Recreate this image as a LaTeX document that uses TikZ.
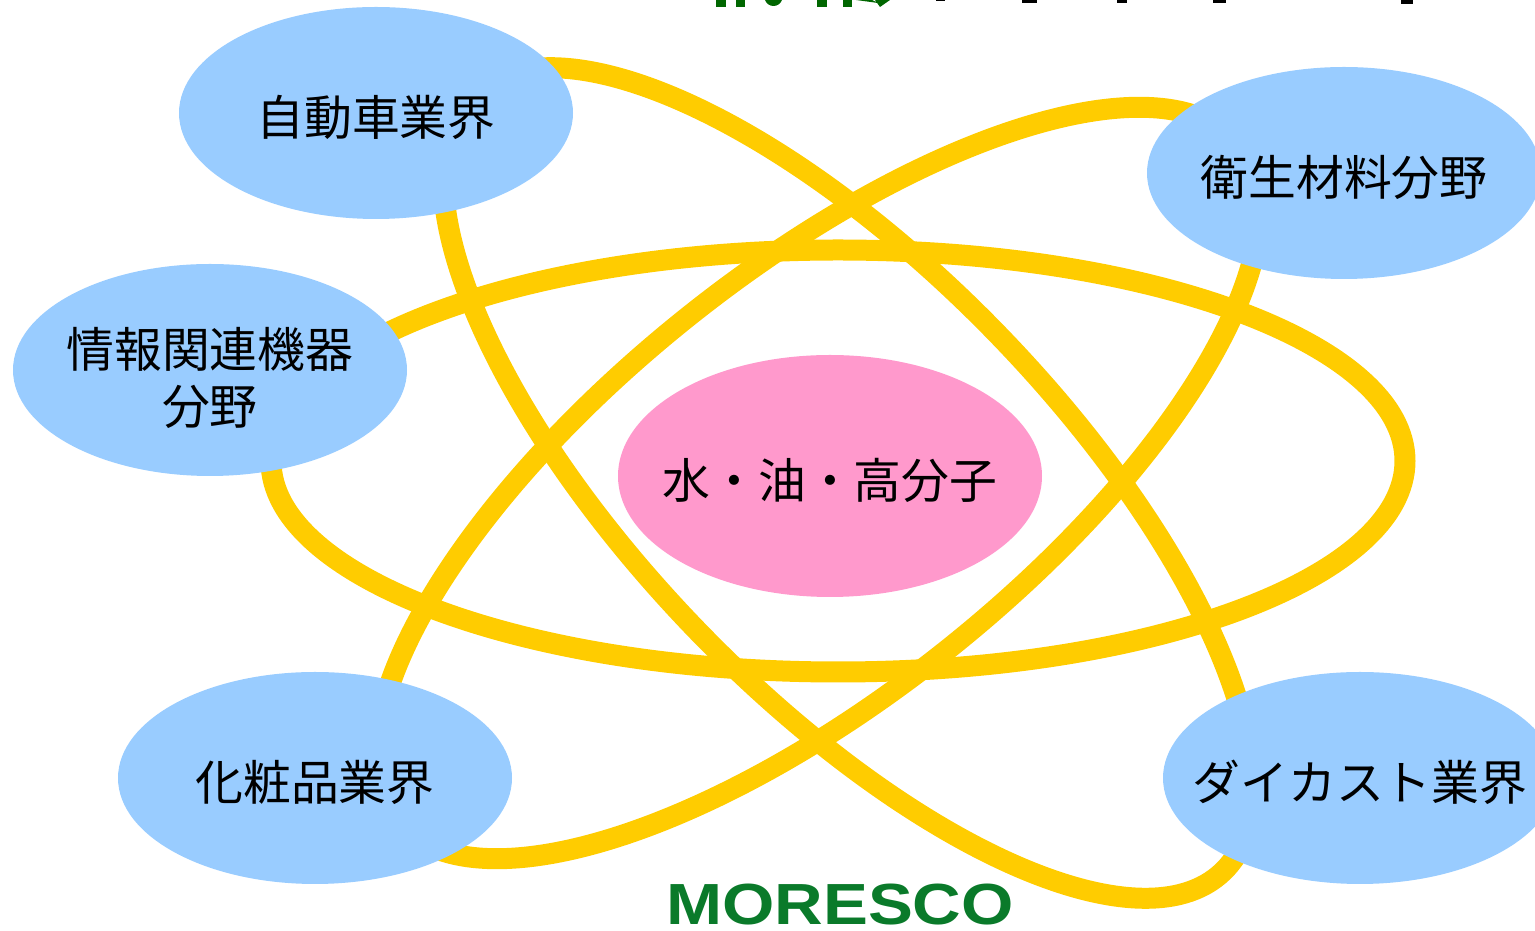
\documentclass[tikz,border=0pt]{standalone}
\usepackage{fontspec}
\newfontfamily\cjk{Noto Sans CJK JP}
\setsansfont{Liberation Sans}
\definecolor{orbitcol}{HTML}{FFCC00}
\definecolor{fieldcol}{HTML}{99CCFF}
\definecolor{corecol}{HTML}{FF99CC}
\definecolor{logocol}{HTML}{0A7A2A}
\definecolor{titlecol}{HTML}{006600}
\usetikzlibrary{shapes.geometric}
\tikzset{
  orbit/.style={draw=orbitcol, line width=21*0.01cm},
  blob/.style={ellipse, inner sep=-50pt, align=center, font=\cjk\fontsize{13.6}{16.3}\selectfont, execute at begin node={\rule{0pt}{14pt}}},
  field/.style={blob, fill=fieldcol, minimum width=394*0.01cm, minimum height=212*0.01cm},
  core/.style={blob, fill=corecol, minimum width=424*0.01cm, minimum height=242*0.01cm},
}
\begin{document}
\begin{tikzpicture}[x=0.01cm, y=-0.01cm]
      \useasboundingbox (0,0) rectangle (1535,931);
      % Cut title
      \foreach \xa/\xb in {716/726, 736/745, 817/827, 843/852}
        \fill[titlecol] (\xa,0) rectangle (\xb,7);
      \fill[titlecol] (765,0) .. controls (768,8) and (779,8) .. (782,0) -- cycle;
      \fill[titlecol] (856,0) -- (875,0) -- (880,7) -- (890,0) -- (872,0) -- (878,3) -- cycle;
      \foreach \xa/\xb/\yb in {936/945/1.5, 1022/1037/3, 1117/1127/3, 1213/1226/3, 1401/1413/4}
        \fill[black] (\xa,0) rectangle (\xb,\yb);

      % Orbits
      \coordinate (flat) at (838,461);
      \coordinate (left) at (818,483);
      \coordinate (right) at (848,483);
      \draw[orbit] (flat) ellipse [x radius=567, y radius=211];
      \draw[orbit, rotate around={38.7:(left)}] (left) ellipse [x radius=540, y radius=211];
      \draw[orbit, rotate around={-46:(right)}] (right) ellipse [x radius=540, y radius=211];

      % Nodes
      \node[field] at (376,113) (auto) {自動車業界};
      \node[field] at (1344,173) (hygiene) {衛生材料分野};
      \node[field] at (210,370) (info) {\rule{0pt}{16pt}情報関連機器\\分野};
      \node[field] at (315,778) (cosme) {化粧品業界};
      \node[field] at (1360,778) (diecast) {ダイカスト業界};
      \node[core] at (830,476) (water) {水・油・高分子};

      % Logo
      \node[inner sep=0pt, text=logocol, font=\sffamily\bfseries\fontsize{16.5}{16.5}\selectfont, xscale=1.16] at (840,905) (logo) {MORESCO};
\end{tikzpicture}
\end{document}
